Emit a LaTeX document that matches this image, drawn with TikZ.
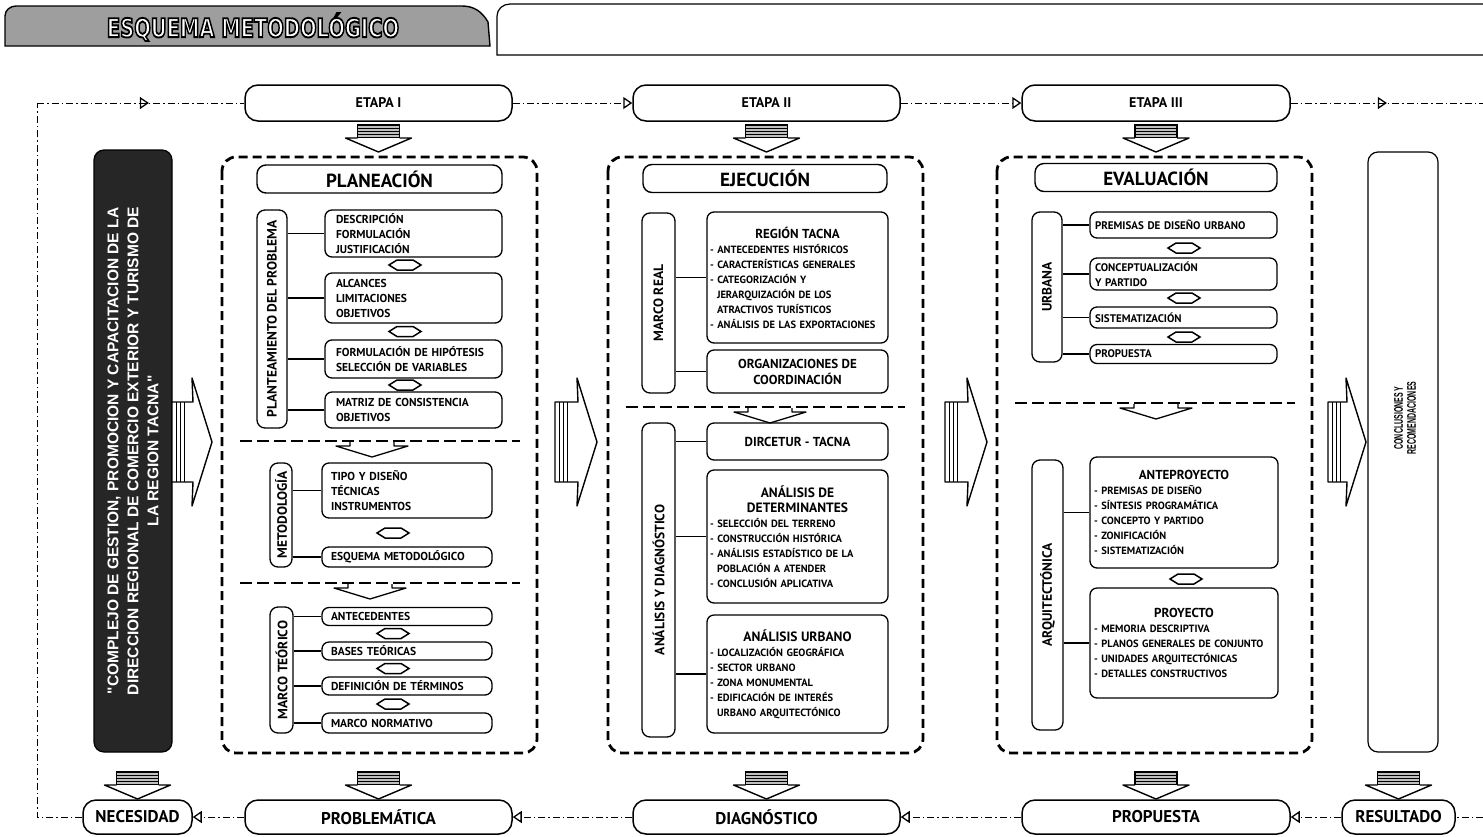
\documentclass[tikz,border=0pt]{standalone}
\usepackage{fontspec}
\setmainfont{PT Sans}
\newfontfamily\libsans{Liberation Sans}
\newfontfamily\djv{DejaVu Sans}
\usepackage{graphicx}
\usetikzlibrary{arrows.meta,decorations.markings}
\tikzset{
 flow/.style={line width=1pt, dash pattern=on 7pt off 3pt on 1.5pt off 3pt},
 endtip/.style={-{Triangle[open,length=9pt,width=12pt,line width=1.3pt]}},
 midtip/.style={postaction={decorate},decoration={markings,mark=at position #1 with {\arrow{Triangle[open,length=9pt,width=12pt,line width=1.3pt]}}}},
 stage/.style={draw,line width=1.5pt,rounded corners=13pt,minimum height=36pt,inner sep=0pt,fill=white,font=\bfseries\fontsize{14}{16}\selectfont},
 bstage/.style={stage,minimum height=34pt,font=\bfseries\fontsize{17}{19}\selectfont},
 panel/.style={draw,line width=2.8pt,dash pattern=on 9pt off 5pt,rounded corners=14pt},
 hd/.style={draw,line width=1.4pt,rounded corners=9pt,minimum height=28pt,inner sep=0pt,font=\bfseries\fontsize{19}{21}\selectfont},
 vlab/.style={draw,line width=1.3pt,rounded corners=8pt,inner sep=0pt},
 vtext/.style={rotate=90,inner sep=0pt,font=\bfseries\fontsize{13.5}{15}\selectfont},
 sub/.style={draw,line width=1.3pt,rounded corners=7pt,inner ysep=0pt,align=left,font=\bfseries\fontsize{11.5}{15}\selectfont},
 lst/.style={sub,inner xsep=3pt,font=\bfseries\fontsize{10.5}{15}\selectfont},
 ctr/.style={draw,line width=1.3pt,rounded corners=7pt,inner sep=0pt,align=center,font=\bfseries\fontsize{13}{16}\selectfont},
 link/.style={line width=1.1pt},
 sep/.style={line width=1.1pt,dash pattern=on 12pt off 5pt},
 ttl/.style={inner sep=0pt,font=\djv\bfseries\fontsize{26}{26}\selectfont,xscale=0.75},
}
\newcommand\dblarrow[2]{\draw[line width=1.5pt,fill=white] (#1-16,#2) -- (#1-8,#2-5) -- (#1+8,#2-5) -- (#1+16,#2) -- (#1+8,#2+5) -- (#1-8,#2+5) -- cycle;}
\newcommand\smalldown[2]{%
 \draw[line width=1.2pt,fill=black!25] (#1-21,#2) rectangle (#1+21,#2+13);
 \foreach \k in {3,6,9} {\draw[line width=1pt] (#1-21,#2+\k) -- (#1+21,#2+\k);}
 \draw[line width=1.4pt,fill=white,line join=round] (#1-21,#2+13) -- (#1-33,#2+13) -- (#1,#2+27) -- (#1+33,#2+13) -- (#1+21,#2+13);}
\newcommand\bigright[3]{%
 \draw[line width=1.4pt,fill=white,line join=round] (#1,#2-40) -- (#3-19,#2-40) -- (#3-20,#2-64) -- (#3,#2) -- (#3-20,#2+64) -- (#3-19,#2+40) -- (#1,#2+40) -- cycle;
 \foreach \k in {4,8,12} {\draw[line width=0.8pt] (#1+\k,#2-40) -- (#1+\k,#2+40);}}
\newcommand\chev[2]{\draw[line width=1.3pt,fill=white,line join=round] (#1-22,#2) -- (#1-22,#2+4) -- (#1-36,#2+4) -- (#1,#2+15) -- (#1+36,#2+4) -- (#1+22,#2+4) -- (#1+22,#2);}
\begin{document}
\hyphenpenalty=10000
\exhyphenpenalty=10000
\begin{tikzpicture}[x=1pt,y=-1pt]
\useasboundingbox (0,0) rectangle (1483,836);
% ---------- header
\draw[line width=1.4pt,fill=black!38] (5,46) -- (5,16) to[out=90,in=180] (16,6) -- (462,6) to[out=0,in=120] (488,22) -- (490,46) -- cycle;
\draw[line width=1.2pt] (1483,4) -- (510,4) to[out=180,in=90] (497,16) -- (497,55) -- (1483,55);
\node[ttl,text=white] (title) at (253,27) {\special{pdf:code 2 Tr 1.9 w 0 G}ESQUEMA METODOLÓGICO\special{pdf:code 0 Tr}};
% ---------- stage row and result row
\node[stage,minimum width=267pt] (e1) at (378.5,103) {ETAPA I};
\node[stage,minimum width=267pt] (e2) at (766.5,103) {ETAPA II};
\node[stage,minimum width=268pt] (e3) at (1156,103) {ETAPA III};
\node[bstage,minimum width=109pt] (nec) at (137.5,817) {NECESIDAD};
\node[bstage,minimum width=267pt] (prob) at (378.5,817) {PROBLEMÁTICA};
\node[bstage,minimum width=267pt] (diag) at (766.5,817) {DIAGNÓSTICO};
\node[bstage,minimum width=268pt] (prop) at (1156,817) {PROPUESTA};
\node[bstage,minimum width=113pt] (res) at (1398.5,817) {RESULTADO};
\coordinate (tl) at (37,103);
\coordinate (bl) at (37,817);
\coordinate (tr) at (1483,103);
\coordinate (br) at (1483,817);
\draw[flow] (nec.west) -- (bl) -- (tl);
\draw[flow,midtip=0.54] (tl) -- (e1.west);
\draw[flow,endtip] (e1.east) -- (e2.west);
\draw[flow,endtip] (e2.east) -- (e3.west);
\draw[flow,midtip=0.5] (e3.east) -- (tr);
\draw[flow] (br) -- (res.east);
\draw[flow,endtip] (res.west) -- (prop.east);
\draw[flow,endtip] (prop.west) -- (diag.east);
\draw[flow,endtip] (diag.west) -- (prob.east);
\draw[flow,endtip] (prob.west) -- (nec.east);
\smalldown{378.5}{125}
\smalldown{766.5}{125}
\smalldown{1156}{125}
\smalldown{137.5}{772}
\smalldown{378.5}{772}
\smalldown{766.5}{772}
\smalldown{1156}{772}
\smalldown{1398.5}{772}
% ---------- left title column
\node[draw,line width=1.2pt,fill=black!85,rounded corners=10pt,minimum width=78pt,minimum height=602pt] (dark) at (133,451) {};
\node[rotate=90,text=white,align=center,inner sep=0pt,font=\libsans\bfseries\fontsize{15.5}{20}\selectfont] (darktxt) at (dark) {"COMPLEJO DE GESTION, PROMOCION Y CAPACITACION DE LA\\DIRECCION REGIONAL DE COMERCIO EXTERIOR Y TURISMO DE\\LA REGION TACNA"};
% ---------- right column
\node[draw,line width=1.2pt,rounded corners=10pt,minimum width=70pt,minimum height=600pt] (conc) at (1403,452) {};
\node[rotate=90,align=center,inner sep=0pt,font=\libsans\bfseries\fontsize{12.5}{13}\selectfont] (conctxt) at (1405,418) {\scalebox{0.56}[1]{CONCLUSIONES Y}\\\scalebox{0.56}[1]{RECOMENDACIONES}};
% ---------- big arrows
\bigright{172}{442}{212}
\bigright{555}{442}{597}
\bigright{945}{442}{987}
\bigright{1328}{442}{1366}
% ---------- panels
\draw[panel] (222,157) rectangle (537,753);
\draw[panel] (608,157) rectangle (923,753);
\draw[panel] (997,157) rectangle (1312,753);
% ===== Panel I
\node[hd,minimum width=245pt] (plan) at (379.5,179) {PLANEACIÓN};
\node[vlab,minimum width=30pt,minimum height=218pt] (l1) at (272,319) {};
\node[vtext] (l1t) at (l1) {PLANTEAMIENTO DEL PROBLEMA};
\node[sub,text width=155pt,inner xsep=11pt,minimum height=47pt] (p1) at (413.5,233.5) {DESCRIPCIÓN\\FORMULACIÓN\\JUSTIFICACIÓN};
\node[sub,text width=155pt,inner xsep=11pt,minimum height=50pt] (p2) at (413.5,298) {ALCANCES\\LIMITACIONES\\OBJETIVOS};
\node[sub,text width=155pt,inner xsep=11pt,minimum height=38pt] (p3) at (413.5,359) {FORMULACIÓN DE HIPÓTESIS\\SELECCIÓN DE VARIABLES};
\node[sub,text width=155pt,inner xsep=11pt,minimum height=36pt] (p4) at (413.5,410) {MATRIZ DE CONSISTENCIA\\OBJETIVOS};
\foreach \b in {p1,p2,p3,p4} {\draw[link] (\b.west -| l1.east) -- (\b.west);}
\dblarrow{405}{265}
\dblarrow{405}{331.5}
\dblarrow{405}{385}
\draw[sep] (240,441) -- (520,441);
\chev{372}{442}
\node[vlab,minimum width=22pt,minimum height=104pt] (l2) at (281,515) {};
\node[vtext] (l2t) at (l2) {METODOLOGÍA};
\node[sub,text width=152pt,inner xsep=9pt,minimum height=55pt] (m1) at (407,490.5) {TIPO Y DISEÑO\\TÉCNICAS\\INSTRUMENTOS};
\node[sub,text width=152pt,inner xsep=9pt,minimum height=20pt] (m2) at (407,557) {ESQUEMA METODOLÓGICO};
\foreach \b in {m1,m2} {\draw[link] (\b.west -| l2.east) -- (\b.west);}
\dblarrow{393}{533}
\draw[sep] (240,583) -- (520,583);
\chev{370}{584}
\node[vlab,minimum width=23pt,minimum height=126pt] (l3) at (281.5,670) {};
\node[vtext] (l3t) at (l3) {MARCO TEÓRICO};
\node[sub,text width=152pt,inner xsep=9pt,minimum height=18pt] (t1) at (407,616.5) {ANTECEDENTES};
\node[sub,text width=152pt,inner xsep=9pt,minimum height=18pt] (t2) at (407,651) {BASES TEÓRICAS};
\node[sub,text width=152pt,inner xsep=9pt,minimum height=18pt] (t3) at (407,686) {DEFINICIÓN DE TÉRMINOS};
\node[sub,text width=152pt,inner xsep=9pt,minimum height=20pt] (t4) at (407,723) {MARCO NORMATIVO};
\foreach \b in {t1,t2,t3,t4} {\draw[link] (\b.west -| l3.east) -- (\b.west);}
\dblarrow{393}{633.5}
\dblarrow{393}{668.5}
\dblarrow{393}{704}
% ===== Panel II
\node[hd,minimum width=244pt] (ejec) at (765,178.5) {EJECUCIÓN};
\node[vlab,minimum width=33pt,minimum height=180pt] (l4) at (658.5,303) {};
\node[vtext] (l4t) at (l4) {MARCO REAL};
\node[lst,text width=175pt,minimum height=131pt] (r1) at (797.5,277.5) {{\centering\fontsize{13}{17}\selectfont REGIÓN TACNA\par}- ANTECEDENTES HISTÓRICOS\\- CARACTERÍSTICAS GENERALES\\- CATEGORIZACIÓN Y\\\hspace*{7pt}JERARQUIZACIÓN DE LOS\\\hspace*{7pt}ATRACTIVOS TURÍSTICOS\\- ANÁLISIS DE LAS EXPORTACIONES};
\node[ctr,minimum width=181pt,minimum height=43pt] (r2) at (797.5,371.5) {ORGANIZACIONES DE\\COORDINACIÓN};
\foreach \b in {r1,r2} {\draw[link] (\b.west -| l4.east) -- (\b.west);}
\draw[sep] (626,407) -- (905,407);
\chev{770}{408}
\node[vlab,minimum width=33pt,minimum height=314pt] (l5) at (658.5,580) {};
\node[vtext] (l5t) at (l5) {ANÁLISIS Y DIAGNÓSTICO};
\node[ctr,minimum width=181pt,minimum height=37pt] (r3) at (797.5,441.5) {DIRCETUR - TACNA};
\node[lst,text width=175pt,minimum height=133pt] (r4) at (797.5,536.5) {{\centering\fontsize{13.5}{15}\selectfont ANÁLISIS DE\\DETERMINANTES\par}- SELECCIÓN DEL TERRENO\\- CONSTRUCCIÓN HISTÓRICA\\- ANÁLISIS ESTADÍSTICO DE LA\\\hspace*{7pt}POBLACIÓN A ATENDER\\- CONCLUSIÓN APLICATIVA};
\node[lst,text width=175pt,minimum height=118pt] (r5) at (797.5,674) {{\centering\fontsize{13.5}{20}\selectfont ANÁLISIS URBANO\par}- LOCALIZACIÓN GEOGRÁFICA\\- SECTOR URBANO\\- ZONA MONUMENTAL\\- EDIFICACIÓN DE INTERÉS\\\hspace*{7pt}URBANO ARQUITECTÓNICO};
\foreach \b in {r3,r4,r5} {\draw[link] (\b.west -| l5.east) -- (\b.west);}
% ===== Panel III
\node[hd,minimum width=242pt] (eval) at (1156,177.5) {EVALUACIÓN};
\node[vlab,minimum width=30pt,minimum height=150pt] (l6) at (1047,287) {};
\node[vtext] (l6t) at (l6) {URBANA};
\node[sub,text width=177pt,inner xsep=5pt,minimum height=26pt,font=\bfseries\fontsize{11}{15}\selectfont] (u1) at (1183.5,225) {PREMISAS DE DISEÑO URBANO};
\node[sub,text width=177pt,inner xsep=5pt,minimum height=32pt,font=\bfseries\fontsize{11}{15}\selectfont] (u2) at (1183.5,274) {CONCEPTUALIZACIÓN\\Y PARTIDO};
\node[sub,text width=177pt,inner xsep=5pt,minimum height=21pt,font=\bfseries\fontsize{11}{15}\selectfont] (u3) at (1183.5,317.5) {SISTEMATIZACIÓN};
\node[sub,text width=177pt,inner xsep=5pt,minimum height=19pt,font=\bfseries\fontsize{11}{15}\selectfont] (u4) at (1183.5,354) {PROPUESTA};
\foreach \b in {u1,u2,u3,u4} {\draw[link] (\b.west -| l6.east) -- (\b.west);}
\dblarrow{1184}{248}
\dblarrow{1184}{298}
\dblarrow{1184}{337}
\draw[sep] (1015,403) -- (1295,403);
\chev{1156}{404}
\node[vlab,minimum width=31pt,minimum height=270pt] (l7) at (1047.5,595) {};
\node[vtext] (l7t) at (l7) {ARQUITECTÓNICA};
\node[lst,text width=180pt,inner xsep=4pt,minimum height=111pt] (a1) at (1184,512.5) {{\centering\fontsize{13}{17}\selectfont ANTEPROYECTO\par}- PREMISAS DE DISEÑO\\- SÍNTESIS PROGRAMÁTICA\\- CONCEPTO Y PARTIDO\\- ZONIFICACIÓN\\- SISTEMATIZACIÓN};
\node[lst,text width=180pt,inner xsep=4pt,minimum height=110pt] (a2) at (1184,643) {{\centering\fontsize{13}{20}\selectfont PROYECTO\par}- MEMORIA DESCRIPTIVA\\- PLANOS GENERALES DE CONJUNTO\\- UNIDADES ARQUITECTÓNICAS\\- DETALLES CONSTRUCTIVOS};
\foreach \b in {a1,a2} {\draw[link] (\b.west -| l7.east) -- (\b.west);}
\dblarrow{1186}{579}
\end{tikzpicture}
\end{document}
